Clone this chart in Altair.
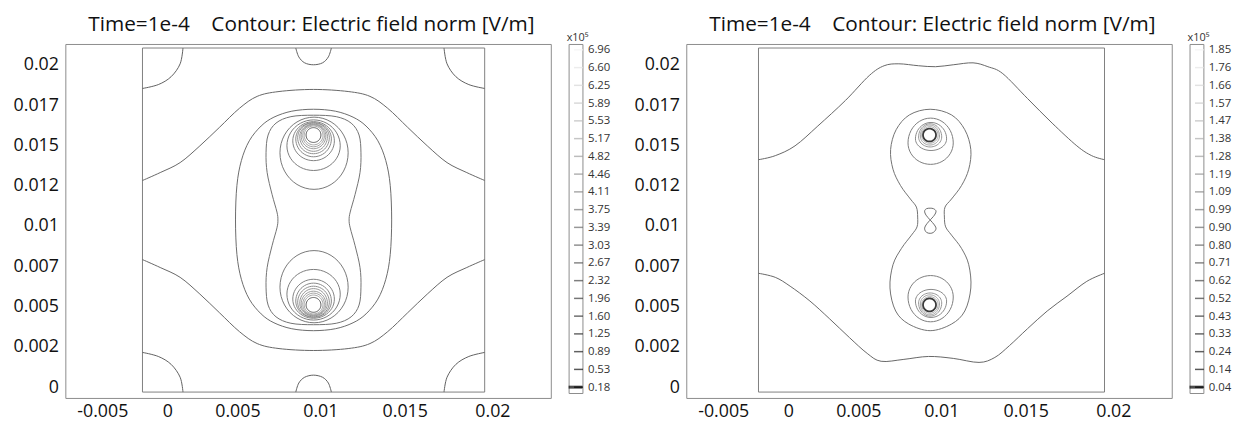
import numpy as np
import pandas as pd
import altair as alt

# ---------------- axes ----------------
# The reference prints its x labels as typed text; these are the positions (mm, on the
# plot's own x scale) at which each label stands in the picture.
X_LABEL_POS = [-4.29, -0.18, 4.25, 9.49, 14.83, 20.37]
X_LABELS = ["-0.005", "0", "0.005", "0.01", "0.015", "0.02"]
Y_TICKS = [0, 2.5, 5, 7.5, 10, 12.5, 15, 17.5, 20]
Y_LABELS = ["0", "0.002", "0.005", "0.007", "0.01", "0.012", "0.015", "0.017", "0.02"]
X_DOMAIN = [-6.625, 24.06]
Y_DOMAIN = [-0.675, 21.29]

TITLE = "Time=1e-4\u00a0\u00a0\u00a0\u00a0Contour: Electric field norm [V/m]"

# ---------------- colour-bar levels (x10^5 V/m) ----------------
CB_LEFT = ["6.96", "6.60", "6.25", "5.89", "5.53", "5.17", "4.82", "4.46", "4.11", "3.75",
           "3.39", "3.03", "2.67", "2.32", "1.96", "1.60", "1.25", "0.89", "0.53", "0.18"]
CB_RIGHT = ["1.85", "1.76", "1.66", "1.57", "1.47", "1.38", "1.28", "1.19", "1.09", "0.99",
            "0.90", "0.80", "0.71", "0.62", "0.52", "0.43", "0.33", "0.24", "0.14", "0.04"]

# ======================= LEFT PANEL (coordinates in mm) =======================
L_BOX_X = [-1.75, 19.88]
L_BOX_Y = [-0.31, 21.04]

L_ARC_TL_X = [0.81, 0.63, 0.06, -0.75, -1.75]
L_ARC_TL_Y = [21.04, 20.06, 19.26, 18.77, 18.53]
L_ARC_BL_X = [-1.75, -0.75, 0.06, 0.63, 0.81]
L_ARC_BL_Y = [2.15, 1.90, 1.41, 0.61, -0.31]
L_ARC_TR_X = [17.31, 17.50, 18.06, 18.88, 19.88]
L_ARC_TR_Y = [21.04, 20.06, 19.26, 18.77, 18.53]
L_ARC_BR_X = [19.88, 18.88, 18.06, 17.50, 17.31]
L_ARC_BR_Y = [2.15, 1.90, 1.41, 0.61, -0.31]

L_SEMI_X = [7.94, 8.13, 8.50, 9.06, 9.63, 10.00, 10.19]
L_SEMI_T_Y = [21.04, 20.49, 20.12, 20.00, 20.12, 20.49, 21.04]
L_SEMI_B_Y = [-0.31, 0.25, 0.61, 0.74, 0.61, 0.25, -0.31]

L_SAD_X = [-1.75, -0.63, 0.63, 1.88, 3.13, 4.38, 5.50, 6.88, 9.06, 11.25, 12.63, 13.75,
           15.00, 16.25, 17.50, 18.75, 19.88]
L_SAD_T_Y = [12.82, 13.31, 13.93, 14.97, 16.13, 17.30, 18.04, 18.34, 18.47, 18.34, 18.04,
             17.30, 16.13, 14.97, 13.93, 13.31, 12.82]
L_SAD_B_Y = [7.91, 7.42, 6.81, 5.77, 4.60, 3.44, 2.70, 2.39, 2.27, 2.39, 2.70, 3.44, 4.60,
             5.77, 6.81, 7.42, 7.91]

L_OVAL_X = [9.06, 10.44, 11.56, 12.38, 13.13, 13.63, 13.91, 14.00, 13.91, 13.63, 13.13, 12.38,
            11.56, 10.44, 9.06, 7.69, 6.56, 5.75, 5.00, 4.50, 4.22, 4.13, 4.22, 4.50, 5.00,
            5.75, 6.56, 7.69]
L_OVAL_Y = [17.24, 17.12, 16.75, 16.20, 15.28, 14.05, 12.52, 10.37, 8.22, 6.69, 5.46, 4.54,
            3.99, 3.62, 3.50, 3.62, 3.99, 4.54, 5.46, 6.69, 8.22, 10.37, 12.52, 14.05, 15.28,
            16.20, 16.75, 17.12]

L_PEA_X = [9.06, 10.50, 11.44, 11.94, 12.06, 12.00, 11.69, 11.38, 11.31, 11.38, 11.69, 12.00,
           12.06, 11.94, 11.44, 10.50, 9.06, 7.63, 6.69, 6.19, 6.06, 6.13, 6.44, 6.75, 6.81,
           6.75, 6.44, 6.13, 6.06, 6.19, 6.69, 7.63]
L_PEA_Y = [16.87, 16.78, 16.38, 15.64, 14.54, 13.31, 11.96, 10.86, 10.37, 9.88, 8.77, 7.42,
           6.20, 5.09, 4.36, 3.96, 3.87, 3.96, 4.36, 5.09, 6.20, 7.42, 8.77, 9.88, 10.37,
           10.86, 11.96, 13.31, 14.54, 15.64, 16.38, 16.78]

# rings around the electrodes: extents left / right / top / bottom and the height at
# which each ring is widest (mm)
L_ELEC_Y = [15.64, 5.10]
L_RING_LEFT = [6.94, 7.38, 7.75, 7.94, 8.06, 8.19, 8.28, 8.38, 8.47]
L_RING_RIGHT = [11.25, 10.75, 10.38, 10.19, 10.06, 9.94, 9.84, 9.75, 9.66]
L_RT_TOP = [16.75, 16.58, 16.47, 16.41, 16.38, 16.32, 16.29, 16.26, 16.20]
L_RT_BOTTOM = [12.27, 13.44, 14.05, 14.29, 14.48, 14.63, 14.79, 14.91, 15.03]
L_RT_WIDEST = [14.54, 14.97, 15.28, 15.40, 15.48, 15.54, 15.58, 15.61, 15.63]
L_RB_TOP = [8.47, 7.30, 6.69, 6.45, 6.26, 6.11, 5.95, 5.83, 5.71]
L_RB_BOTTOM = [3.99, 4.16, 4.27, 4.33, 4.36, 4.42, 4.45, 4.48, 4.54]
L_RB_WIDEST = [6.20, 5.77, 5.46, 5.34, 5.26, 5.20, 5.16, 5.13, 5.11]
L_RING_LEVEL = [4, 5, 6, 7, 8, 9, 10, 11, 12]
L_EL_LEFT, L_EL_RIGHT = 8.59, 9.53
L_EL_TOP = [16.10, 5.56]
L_EL_BOTTOM = [15.18, 4.64]

# ======================= RIGHT PANEL (coordinates in mm) =======================
R_BOX_X = [-2.06, 19.81]
R_BOX_Y = [-0.31, 21.04]

R_TOP_X = [-2.06, -1.00, 0.25, 1.69, 3.44, 4.94, 5.88, 6.81, 8.06, 9.13, 10.25, 11.50, 12.44,
           13.38, 14.94, 16.50, 18.06, 19.00, 19.81]
R_TOP_Y = [14.11, 14.36, 14.97, 16.20, 17.79, 19.33, 19.94, 20.06, 19.94, 19.88, 20.00, 20.12,
           19.88, 19.45, 17.91, 16.38, 14.97, 14.36, 14.11]
R_BOT_X = [-2.06, -1.00, -0.06, 1.19, 2.44, 3.69, 4.81, 5.69, 7.13, 8.69, 10.25, 11.88, 12.88,
           13.81, 14.94, 16.19, 17.44, 18.69, 19.81]
R_BOT_Y = [7.06, 6.81, 6.26, 5.34, 4.23, 3.07, 2.09, 1.60, 1.72, 1.90, 1.78, 1.53, 1.84, 2.58,
           3.62, 4.72, 5.64, 6.56, 7.06]

R_HG_X = [8.79, 10.14, 10.98, 11.36, 11.23, 10.77, 10.14, 9.73, 9.69, 9.77, 10.14, 10.77, 11.23,
          11.36, 10.98, 10.14, 8.79, 7.44, 6.61, 6.25, 6.44, 6.98, 7.61, 7.96, 8.00, 7.92, 7.54,
          6.92, 6.44, 6.29, 6.64, 7.48]
R_HG_Y = [17.24, 16.89, 15.97, 14.74, 13.52, 12.50, 11.67, 11.17, 10.55, 9.94, 9.43, 8.61, 7.59,
          6.15, 4.72, 3.91, 3.50, 3.91, 4.72, 6.15, 7.59, 8.61, 9.43, 9.94, 10.55, 11.17, 11.67,
          12.50, 13.52, 14.74, 15.97, 16.89]

R_N8_X = [8.79, 9.06, 9.16, 9.00, 8.79, 8.56, 8.44, 8.53, 8.79, 9.06, 9.16, 9.00, 8.79, 8.56,
          8.44, 8.53, 8.79]
R_N8_Y = [10.37, 10.67, 10.92, 11.07, 11.10, 11.07, 10.92, 10.67, 10.37, 10.06, 9.82, 9.60,
          9.54, 9.60, 9.82, 10.06, 10.37]

R_ELEC_Y = [15.64, 5.10]
R_RING_LEFT = [7.39, 7.86, 8.06, 8.17, 8.25]
R_RING_RIGHT = [10.25, 9.83, 9.52, 9.38, 9.29]
R_RT_TOP = [16.69, 16.42, 16.34, 16.26, 16.16]
R_RT_BOTTOM = [13.82, 14.68, 14.90, 15.02, 15.13]
R_RT_WIDEST = [15.15, 15.40, 15.52, 15.58, 15.62]
R_RB_TOP = [6.92, 6.06, 5.84, 5.72, 5.61]
R_RB_BOTTOM = [4.05, 4.32, 4.40, 4.48, 4.58]
R_RB_WIDEST = [5.59, 5.34, 5.22, 5.16, 5.12]
R_RING_LEVEL = [5, 7, 9, 11, 13]
R_EL_LEFT, R_EL_RIGHT = 8.34, 9.16
R_EL_TOP = [16.04, 5.50]
R_EL_BOTTOM = [15.24, 4.70]


# ---------------- table builders ----------------
def polyline_rows(cid, xs, ys, level):
    return [{"cid": cid, "ord": i, "x": x, "y": y, "level": level}
            for i, (x, y) in enumerate(zip(xs, ys))]


def ring_rows(cid, left, right, top, bottom, widest, level, n=48):
    # closed contour through the read extents: upper and lower halves meet where it is widest
    cx = (left + right) / 2.0
    rx = (right - left) / 2.0
    t = np.linspace(0, 2 * np.pi, n, endpoint=False)
    s = np.sin(t)
    ry = np.where(s >= 0, top - widest, widest - bottom)
    xs = cx + rx * np.cos(t)
    ys = widest + ry * s
    return polyline_rows(cid, xs, ys, level)


def ring_set(tag, lefts, rights, tops, bottoms, widests, levels):
    rows = []
    for k, (l, r, t, b, w, lev) in enumerate(zip(lefts, rights, tops, bottoms, widests, levels)):
        rows += ring_rows(f"{tag}{k}", l, r, t, b, w, lev)
    return rows


def label_expr(values, labels):
    parts = [f"datum.value == {v} ? '{t}'" for v, t in zip(values, labels)]
    return " : ".join(parts) + " : ''"


# left tables
l_open = pd.DataFrame(
    polyline_rows("arc_tl", L_ARC_TL_X, L_ARC_TL_Y, 0)
    + polyline_rows("arc_bl", L_ARC_BL_X, L_ARC_BL_Y, 0)
    + polyline_rows("arc_tr", L_ARC_TR_X, L_ARC_TR_Y, 0)
    + polyline_rows("arc_br", L_ARC_BR_X, L_ARC_BR_Y, 0)
    + polyline_rows("semi_t", L_SEMI_X, L_SEMI_T_Y, 0)
    + polyline_rows("semi_b", L_SEMI_X, L_SEMI_B_Y, 0)
    + polyline_rows("sad_t", L_SAD_X, L_SAD_T_Y, 1)
    + polyline_rows("sad_b", L_SAD_X, L_SAD_B_Y, 1)
)
l_closed = pd.DataFrame(
    polyline_rows("oval", L_OVAL_X, L_OVAL_Y, 2)
    + polyline_rows("peanut", L_PEA_X, L_PEA_Y, 3)
    + ring_set("rt", L_RING_LEFT, L_RING_RIGHT, L_RT_TOP, L_RT_BOTTOM, L_RT_WIDEST, L_RING_LEVEL)
    + ring_set("rb", L_RING_LEFT, L_RING_RIGHT, L_RB_TOP, L_RB_BOTTOM, L_RB_WIDEST, L_RING_LEVEL)
)
l_elec = pd.DataFrame(
    ring_rows("e_top", L_EL_LEFT, L_EL_RIGHT, L_EL_TOP[0], L_EL_BOTTOM[0], L_ELEC_Y[0], 19)
    + ring_rows("e_bot", L_EL_LEFT, L_EL_RIGHT, L_EL_TOP[1], L_EL_BOTTOM[1], L_ELEC_Y[1], 19)
)

# right tables
r_open = pd.DataFrame(
    polyline_rows("top", R_TOP_X, R_TOP_Y, 1)
    + polyline_rows("bot", R_BOT_X, R_BOT_Y, 1)
    + polyline_rows("neck8", R_N8_X, R_N8_Y, 2)
)
r_closed = pd.DataFrame(
    polyline_rows("hourglass", R_HG_X, R_HG_Y, 3)
    + ring_set("rt", R_RING_LEFT, R_RING_RIGHT, R_RT_TOP, R_RT_BOTTOM, R_RT_WIDEST, R_RING_LEVEL)
    + ring_set("rb", R_RING_LEFT, R_RING_RIGHT, R_RB_TOP, R_RB_BOTTOM, R_RB_WIDEST, R_RING_LEVEL)
)
r_elec = pd.DataFrame(
    ring_rows("e_top", R_EL_LEFT, R_EL_RIGHT, R_EL_TOP[0], R_EL_BOTTOM[0], R_ELEC_Y[0], 19)
    + ring_rows("e_bot", R_EL_LEFT, R_EL_RIGHT, R_EL_TOP[1], R_EL_BOTTOM[1], R_ELEC_Y[1], 19)
)

FONT = "Open Sans"
PLOT_W, PLOT_H = 491, 358


def panel(box_x, box_y, open_df, closed_df, elec_df, elec_width, elec_color):
    xs = alt.Scale(domain=X_DOMAIN, nice=False, zero=False)
    ys = alt.Scale(domain=Y_DOMAIN, nice=False, zero=False)
    xax = alt.Axis(values=X_LABEL_POS, labelExpr=label_expr(X_LABEL_POS, X_LABELS), ticks=False,
                   domain=False, grid=False, title=None, labelFont=FONT, labelFontSize=18,
                   labelColor="#111111", labelPadding=5, labelFlush=False, labelOverlap=False)
    yax = alt.Axis(values=Y_TICKS, labelExpr=label_expr(Y_TICKS, Y_LABELS), ticks=False,
                   domain=False, grid=False, title=None, labelFont=FONT, labelFontSize=18,
                   labelColor="#111111", labelPadding=7, labelFlush=False, labelOverlap=False)
    col = alt.Color("level:Q", scale=alt.Scale(domain=[0, 19], range=["#606060", "#d2d2d2"]),
                    legend=None)
    box_df = pd.DataFrame({"x0": [box_x[0]], "x1": [box_x[1]], "y0": [box_y[0]], "y1": [box_y[1]]})
    box = alt.Chart(box_df).mark_rect(fillOpacity=0, stroke="#808080", strokeWidth=1).encode(
        x=alt.X("x0:Q", scale=xs, axis=xax), x2="x1",
        y=alt.Y("y0:Q", scale=ys, axis=yax), y2="y1")
    opn = alt.Chart(open_df).mark_line(interpolate="cardinal", strokeWidth=1).encode(
        x=alt.X("x:Q", scale=xs, axis=xax), y=alt.Y("y:Q", scale=ys, axis=yax),
        detail="cid:N", order=alt.Order("ord:Q"), color=col)
    cls = alt.Chart(closed_df).mark_line(interpolate="cardinal-closed", strokeWidth=1).encode(
        x=alt.X("x:Q", scale=xs, axis=xax), y=alt.Y("y:Q", scale=ys, axis=yax),
        detail="cid:N", order=alt.Order("ord:Q"), color=col)
    ele = alt.Chart(elec_df).mark_line(interpolate="cardinal-closed", strokeWidth=elec_width,
                                       color=elec_color).encode(
        x=alt.X("x:Q", scale=xs, axis=xax), y=alt.Y("y:Q", scale=ys, axis=yax),
        detail="cid:N", order=alt.Order("ord:Q"))
    return alt.layer(box, opn, cls, ele).properties(width=PLOT_W, height=PLOT_H)


def colorbar(labels):
    df = pd.DataFrame({"label": labels, "idx": list(range(len(labels)))})
    ysc = alt.Scale(type="point", domain=labels, padding=0.33)
    yax = alt.Axis(orient="right", ticks=False, domain=False, grid=False, title=None,
                   labelPadding=5, labelFont=FONT, labelFontSize=11.5, labelColor="#333333",
                   labelOverlap=False)
    base = alt.Chart(df)
    ticks = base.mark_tick(orient="horizontal", size=9, thickness=1.5, xOffset=3).encode(
        y=alt.Y("label:N", scale=ysc, axis=yax, sort=None),
        color=alt.Color("idx:Q", scale=alt.Scale(domain=[0, len(labels) - 1],
                                                 range=["#f2f2f2", "#000000"]), legend=None))
    last = base.transform_filter(alt.datum.idx == len(labels) - 1).mark_tick(
        orient="horizontal", size=14, thickness=3, color="#000000").encode(
        y=alt.Y("label:N", scale=ysc, axis=yax, sort=None))
    return alt.layer(ticks, last).properties(
        width=14, height=353,
        title=alt.TitleParams("x10\u2075", font=FONT, fontSize=11, fontWeight="normal",
                              color="#333333", anchor="start", offset=1, dx=-2))


def group(panel_chart, cbar):
    return alt.hconcat(
        panel_chart, cbar, spacing=14,
        title=alt.TitleParams(TITLE, font=FONT, fontSize=21, fontWeight="normal",
                              color="#111111", anchor="middle", offset=-3, dx=0),
    ).resolve_scale(x="independent", y="independent", color="independent")


left = group(panel(L_BOX_X, L_BOX_Y, l_open, l_closed, l_elec, 1.0, "#5a5a5a"),
             colorbar(CB_LEFT))
right = group(panel(R_BOX_X, R_BOX_Y, r_open, r_closed, r_elec, 1.8, "#3a3a3a"),
              colorbar(CB_RIGHT))

chart = alt.hconcat(left, right, spacing=22).resolve_scale(
    x="independent", y="independent", color="independent"
).configure_view(stroke="#8c8c8c", strokeWidth=1).properties(
    padding={"left": 4, "top": 3, "right": 5, "bottom": 5}
)

chart.save("out.html", embed_options={"renderer": "svg", "actions": False})
